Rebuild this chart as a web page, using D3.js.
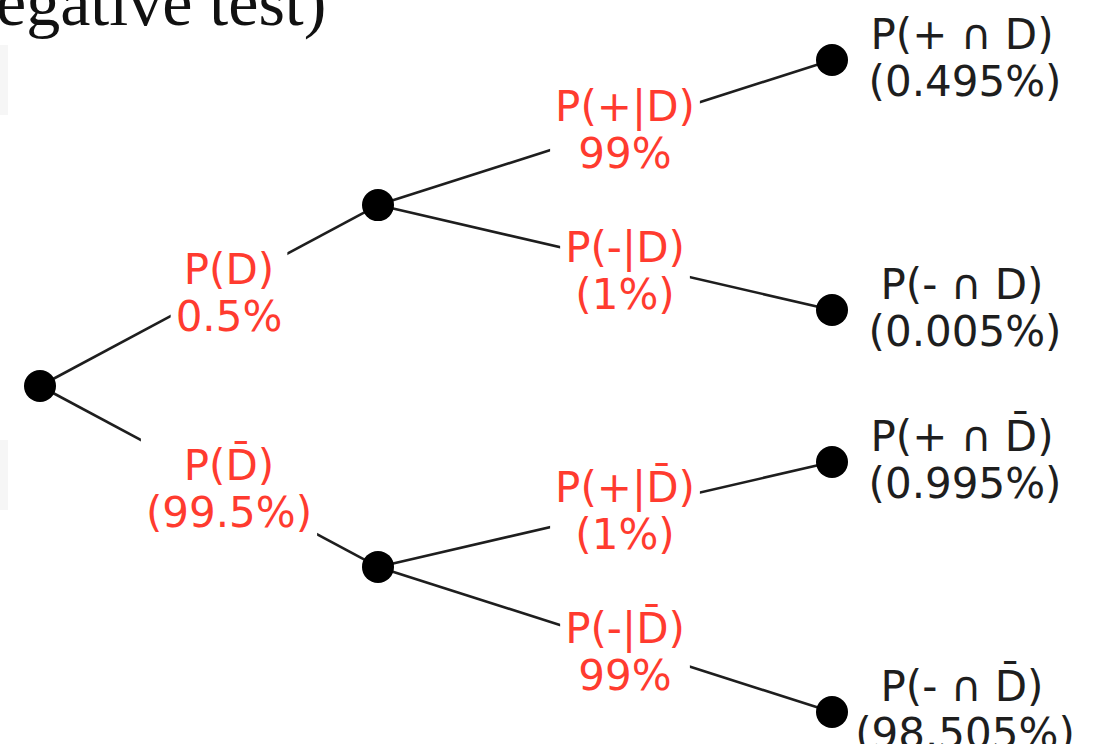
<!DOCTYPE html>
<html><head><meta charset="utf-8">
<script src="https://cdn.jsdelivr.net/npm/d3@7"></script>
<style>body{margin:0;background:#fff;overflow:hidden}</style>
</head><body>
<svg id="c" width="1105" height="744"></svg>
<script>
// ---- data ----
const nodeIds     = ["root", "D", "notD", "posD", "negD", "posNotD", "negNotD"];
const nodeParents = [null, "root", "root", "D", "D", "notD", "notD"];
// edge labels (edge ends at node with same index in nodeIds, starting from index 1)
const edgeEvents  = ["P(D)", "P(D\u0304)", "P(+|D)", "P(-|D)", "P(+|D\u0304)", "P(-|D\u0304)"];
const edgeValues  = ["0.5%", "(99.5%)", "99%", "(1%)", "(1%)", "99%"];
// leaf labels
const leafEvents  = ["P(+ \u2229 D)", "P(- \u2229 D)", "P(+ \u2229 D\u0304)", "P(- \u2229 D\u0304)"];
const leafValues  = ["(0.495%)", "(0.005%)", "(0.995%)", "(98.505%)"];
const titleText   = "egative test)";

// ---- layout ----
const svg = d3.select("#c");
const RED = "#ff3b2f", INK = "#1e1e1e";
const FONT = "'DejaVu Sans', Verdana, sans-serif";

// faint gray smudges on left edge
svg.append("rect").attr("x", 0).attr("y", 45).attr("width", 8).attr("height", 70)
  .attr("fill", "#eeeeee").attr("opacity", 0.5);
svg.append("rect").attr("x", 0).attr("y", 440).attr("width", 8).attr("height", 70)
  .attr("fill", "#eeeeee").attr("opacity", 0.5);

svg.append("text").attr("x", -4).attr("y", 25)
  .attr("font-family", "'Liberation Serif', 'Times New Roman', serif")
  .attr("font-size", 68).attr("fill", "#111").text(titleText);

const root = d3.stratify().id((d, i) => nodeIds[i]).parentId((d, i) => nodeParents[i])(nodeIds);
d3.tree().size([1, 1]).separation((a, b) => a.parent === b.parent ? 1 : 0.608)(root);
// pull middle level slightly toward the root
root.children.forEach(c => { c.x = d3.interpolateNumber(c.x, root.x)(0.1); });

const xScale = d3.scaleLinear().domain([0, 1, 2]).range([40, 378, 832]);
const yScale = d3.scaleLinear().domain(d3.extent(root.leaves(), d => d.x)).range([60, 712]);
const px = n => xScale(n.depth), py = n => yScale(n.x);

const links = root.links();
svg.append("g").selectAll("line").data(links).join("line")
  .attr("x1", d => px(d.source)).attr("y1", d => py(d.source))
  .attr("x2", d => px(d.target)).attr("y2", d => py(d.target))
  .attr("stroke", INK).attr("stroke-width", 2.6);

// edge labels
const labG = svg.append("g");
links.forEach(l => {
  const idx = nodeIds.indexOf(l.target.id) - 1;
  const mx = (px(l.source) + px(l.target)) / 2 + 20;
  const my = (py(l.source) + py(l.target)) / 2 + (py(l.target) < py(l.source) ? -12 : 4);
  const g = labG.append("g");
  const t = g.append("text").attr("text-anchor", "middle").attr("font-family", FONT)
    .attr("font-size", 42).attr("fill", RED);
  t.append("tspan").attr("x", mx).attr("y", my).text(edgeEvents[idx]);
  t.append("tspan").attr("x", mx).attr("y", my + 47).text(edgeValues[idx]);
  const bb = t.node().getBBox();
  g.insert("rect", "text").attr("x", bb.x - 5).attr("y", bb.y - 2)
    .attr("width", bb.width + 10).attr("height", bb.height + 4).attr("fill", "#fff");
});

// nodes
const nodes = root.descendants();
svg.append("g").selectAll("circle").data(nodes).join("circle")
  .attr("cx", px).attr("cy", py).attr("r", 16).attr("fill", "#000");

// leaf labels
root.leaves().forEach((lf, i) => {
  const t = svg.append("text").attr("text-anchor", "middle").attr("font-family", FONT)
    .attr("font-size", 42).attr("fill", INK);
  const x = px(lf) + 130, y = py(lf) - 11;
  t.append("tspan").attr("x", x).attr("y", y).text(leafEvents[i]);
  t.append("tspan").attr("x", x + 3).attr("y", y + 47).text(leafValues[i]);
});
</script>
</body></html>
